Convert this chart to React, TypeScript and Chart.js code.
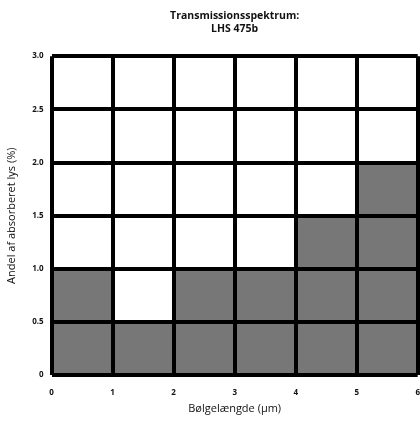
import React, { useEffect, useRef } from "react";
import { Chart, registerables } from "chart.js";

Chart.register(...registerables);

const binCenters = [0.5, 1.5, 2.5, 3.5, 4.5, 5.5];
const absorbed = [1.0, 0.5, 1.0, 1.0, 1.5, 2.0];
const titleLines = ["Transmissionsspektrum:", "LHS 475b"];
const xTitle = "Bølgelængde (µm)";
const yTitle = "Andel af absorberet lys (%)";

export default function App() {
  const ref = useRef<HTMLCanvasElement | null>(null);
  useEffect(() => {
    if (!ref.current) return;
    document.body.style.margin = "0";
    document.body.style.overflow = "hidden";
    const font = "'Open Sans', 'DejaVu Sans', sans-serif";
    const chart = new Chart(ref.current, {
      type: "bar",
      data: {
        datasets: [
          {
            data: binCenters.map((x, i) => ({ x, y: absorbed[i] })),
            backgroundColor: "#777777",
            borderColor: "#8c8c8c",
            borderWidth: 1,
            barPercentage: 1,
            categoryPercentage: 1,
          },
        ],
      },
      options: {
        animation: false,
        responsive: false,
        devicePixelRatio: 1,
        layout: { padding: { left: 5, right: 0, top: 10, bottom: 6 } },
        plugins: {
          legend: { display: false },
          tooltip: { enabled: false },
          title: {
            display: true,
            text: titleLines,
            fullSize: false,
            color: "#111",
            font: { family: font, size: 10.5, weight: "bold", lineHeight: 1.2 },
            padding: { top: 0, bottom: 21 },
          },
        },
        scales: {
          x: {
            type: "linear",
            min: 0,
            max: 6,
            offset: false,
            ticks: {
              stepSize: 1,
              color: "#111",
              padding: 0,
              font: { family: font, size: 8, weight: "bold" },
            },
            grid: {
              color: "#000",
              lineWidth: 4,
              drawTicks: true,
              tickLength: 13,
              tickColor: "rgba(0,0,0,0)",
              offset: false,
              z: 1,
            },
            border: { display: false },
            title: {
              display: true,
              text: xTitle,
              color: "#111",
              font: { family: font, size: 11 },
              padding: { top: 4, bottom: 0 },
            },
          },
          y: {
            min: 0,
            max: 3,
            ticks: {
              stepSize: 0.5,
              color: "#111",
              padding: 8,
              font: { family: font, size: 8, weight: "bold" },
              callback: (v: any) => (Number(v) === 0 ? "0" : Number(v).toFixed(1)),
            },
            grid: { color: "#000", lineWidth: 4, drawTicks: false, z: 1 },
            border: { display: false },
            title: {
              display: true,
              text: yTitle,
              color: "#111",
              font: { family: font, size: 11 },
              padding: { top: 0, bottom: 6 },
            },
          },
        },
      },
    });
    return () => chart.destroy();
  }, []);
  return (
    <div style={{ position: "fixed", left: 0, top: 0, width: 420, height: 421, background: "#fff" }}>
      <canvas ref={ref} width={420} height={421} style={{ display: "block" }} />
    </div>
  );
}
